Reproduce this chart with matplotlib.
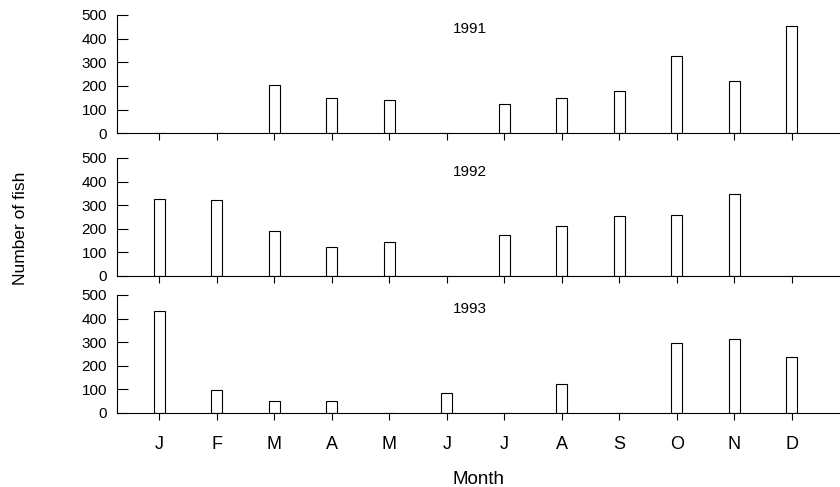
#!/usr/bin/env python3
"""Monthly fish counts for 1991-1993, one panel per year."""

import matplotlib

matplotlib.use("Agg")
import matplotlib.pyplot as plt
import numpy as np

plt.rcParams["font.family"] = ["Liberation Sans", "DejaVu Sans"]

months = ["J", "F", "M", "A", "M", "J", "J", "A", "S", "O", "N", "D"]
years = ["1991", "1992", "1993"]

# Number of fish per month (0 = no sample)
fish_1991 = [0, 0, 203, 148, 139, 0, 125, 150, 179, 327, 220, 452]
fish_1992 = [326, 322, 192, 123, 144, 0, 174, 212, 255, 258, 347, 0]
fish_1993 = [434, 96, 48, 48, 0, 83, 0, 120, 0, 298, 311, 236]

yticks = [0, 100, 200, 300, 400, 500]

fig = plt.figure(figsize=(8.4, 4.87), dpi=100)

# panel boxes in figure fractions: left, bottom, width, height
boxes = [
    (0.139, 0.7263, 0.861, 0.2429),
    (0.139, 0.4333, 0.861, 0.2423),
    (0.139, 0.1526, 0.861, 0.2417),
]

x = np.arange(len(months))

for i, (year, counts) in enumerate(zip(years, [fish_1991, fish_1992, fish_1993])):
    ax = fig.add_axes(boxes[i])
    ax.bar(x, counts, width=0.19, color="white", edgecolor="black", linewidth=0.8)

    ax.set_xlim(-0.74, 11.84)
    ax.set_ylim(0, 500)
    ax.set_yticks(yticks)
    ax.set_xticks(x)

    ax.spines["top"].set_visible(False)
    ax.spines["right"].set_visible(False)
    ax.spines["left"].set_linewidth(0.8)
    ax.spines["bottom"].set_linewidth(0.8)

    ax.tick_params(axis="y", direction="in", length=8, width=0.8, pad=7, labelsize=11)
    ax.tick_params(axis="x", direction="out", length=5, width=0.8, pad=12, labelsize=13)

    if i < 2:
        ax.set_xticklabels([])
    else:
        ax.set_xticklabels(months)
        ax.set_xlabel("Month", fontsize=13.5, labelpad=13)

    ax.text(0.488, 0.885, year, transform=ax.transAxes, ha="center", va="center", fontsize=11)

fig.text(0.024, 0.532, "Number of fish", rotation=90, ha="center", va="center", fontsize=12.5)

fig.savefig("out.png", dpi=100)
